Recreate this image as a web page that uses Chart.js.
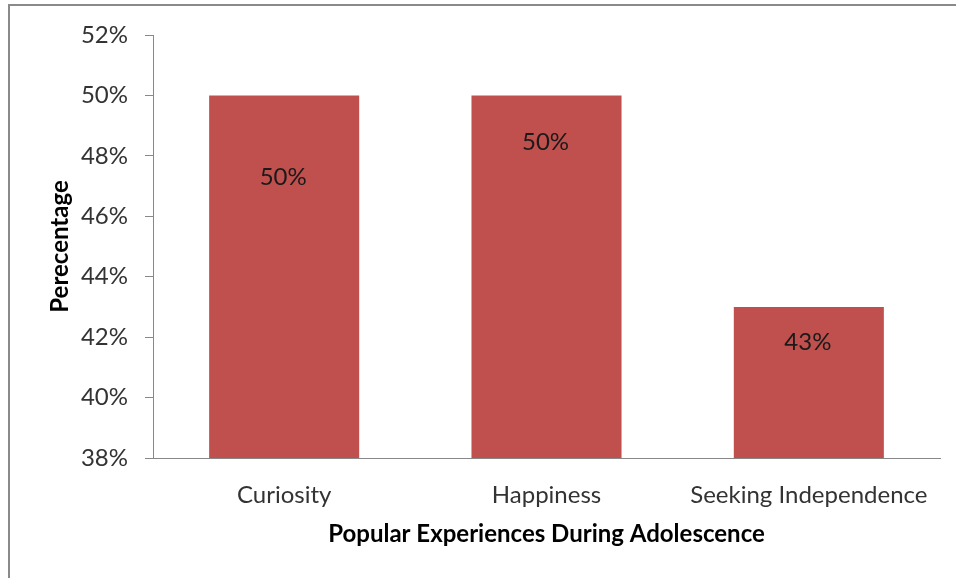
<!DOCTYPE html>
<html>
<head>
<meta charset="utf-8">
<script src="https://cdn.jsdelivr.net/npm/chart.js@4"></script>
<style>
    html, body { margin: 0; padding: 0; background: #fff; }
    #wrap { position: relative; width: 956px; height: 578px; }
    #frame { position: absolute; left: 8px; top: 4px; right: 0; bottom: 0; border-top: 2px solid #8a8a8a; border-left: 2px solid #8a8a8a; }
    canvas { position: absolute; left: 0; top: 0; }
</style>
</head>
<body>
<div id="wrap">
    <div id="frame"></div>
    <canvas id="chart" width="956" height="578"></canvas>
</div>
<script>
const categories = ['Curiosity', 'Happiness', 'Seeking Independence'];
const percentages = [50, 50, 43];
const yTicks = [38, 40, 42, 44, 46, 48, 50, 52];

const FONT = 'Lato, "Open Sans", sans-serif';

// labels were dragged around by hand in the original, so keep a per-bar nudge
const barLabels = {
    id: 'barLabels',
    afterDatasetsDraw(chart, args, opts) {
        const { ctx } = chart;
        const meta = chart.getDatasetMeta(0);
        ctx.save();
        ctx.font = '24px ' + FONT;
        ctx.fillStyle = '#1a1a1a';
        ctx.textAlign = 'center';
        ctx.textBaseline = 'middle';
        meta.data.forEach((bar, i) => {
            ctx.fillText(percentages[i] + '%', bar.x - 1, bar.y + opts.offsets[i]);
        });
        ctx.restore();
    }
};

new Chart(document.getElementById('chart'), {
    type: 'bar',
    data: {
        labels: categories,
        datasets: [{
            data: percentages,
            backgroundColor: '#C0504D',
            categoryPercentage: 1,
            barPercentage: 0.572
        }]
    },
    options: {
        responsive: false,
        animation: false,
        events: [],
        layout: { padding: { top: 35, right: 16, left: 0, bottom: 0 } },
        plugins: {
            legend: { display: false },
            tooltip: { enabled: false },
            barLabels: { offsets: [82, 47, 35] }
        },
        scales: {
            x: {
                grid: { display: false },
                border: { display: true, color: '#888', width: 1 },
                ticks: { color: '#333', padding: 15, font: { family: FONT, size: 24 } },
                title: {
                    display: true,
                    text: 'Popular Experiences During Adolescence',
                    color: '#000',
                    font: { family: FONT, size: 24, weight: 'bold' },
                    padding: { top: 0, bottom: 29 }
                },
                afterFit(scale) { scale.height = 120; }
            },
            y: {
                min: 38,
                max: 52,
                afterBuildTicks(scale) { scale.ticks = yTicks.map(v => ({ value: v })); },
                grid: { drawOnChartArea: false, drawTicks: true, tickLength: 8, color: '#888' },
                border: { display: true, color: '#888', width: 1 },
                ticks: {
                    color: '#333',
                    padding: 17,
                    font: { family: FONT, size: 24 },
                    callback: v => v + '%'
                },
                title: {
                    display: true,
                    text: 'Perecentage',
                    color: '#000',
                    font: { family: FONT, size: 24, weight: 'bold' },
                    padding: { top: 46, bottom: 0 }
                },
                afterFit(scale) { scale.width = 153; }
            }
        }
    },
    plugins: [barLabels]
});
</script>
</body>
</html>
